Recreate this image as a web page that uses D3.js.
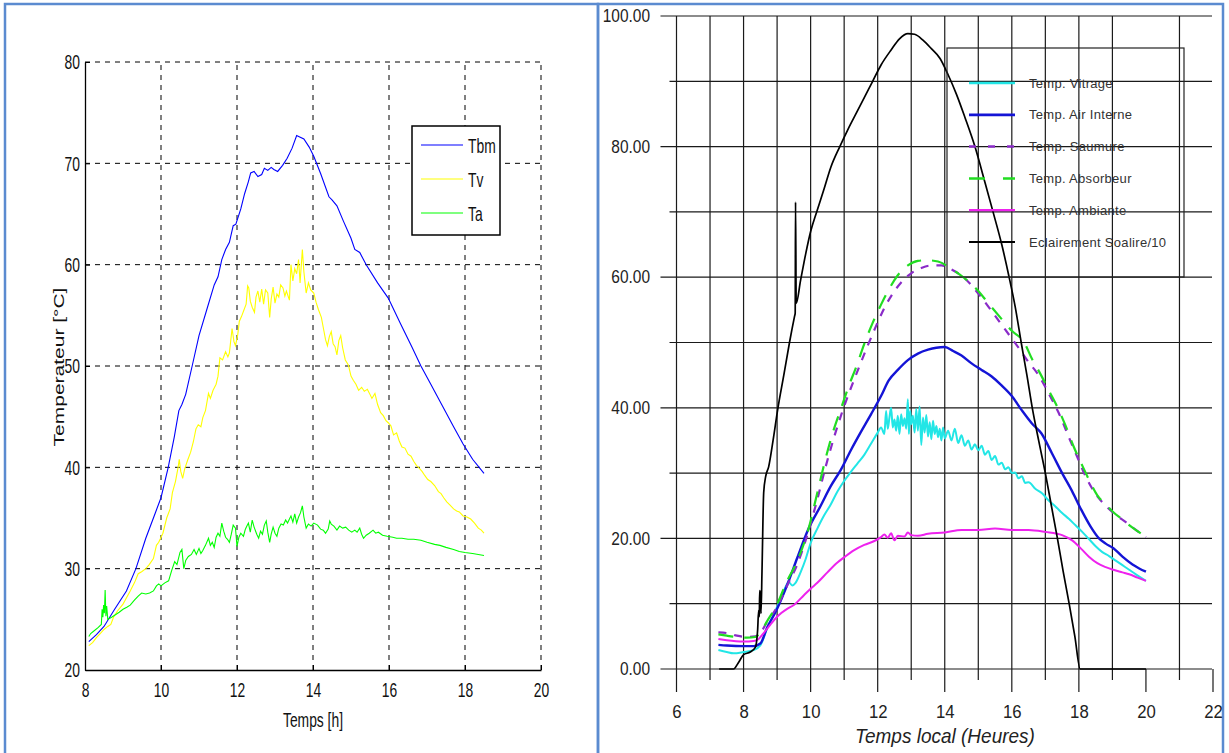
<!DOCTYPE html>
<html>
<head>
<meta charset="utf-8">
<script src="https://cdn.jsdelivr.net/npm/d3@7"></script>
<style>
  body { margin: 0; background: #fff; }
  svg { display: block; }
  text { font-family: "Liberation Sans", Arial, sans-serif; }
</style>
</head>
<body>
<svg width="1229" height="753"></svg>
<script>
// ---- left chart data (Temps [h], temperature in °C)
let tbm = [[8.1,22.8],[8.3,23.5],[8.5,24.3],[8.78,26],[9.09,27.8],[9.34,30],[9.6,33],[9.85,35.5],[10.0,37],[10.19,40],[10.35,43],[10.47,45.6],[10.55,46.2],[10.65,47.2],[10.82,50],[11.0,53],[11.2,55.5],[11.4,58],[11.5,58.8],[11.6,60.5],[11.7,61.5],[11.8,62.2],[11.9,63.85],[11.97,64],[12.1,65.5],[12.2,67],[12.3,68.2],[12.36,69.05],[12.45,69.2],[12.55,68.7],[12.65,68.9],[12.72,69.5],[12.81,69.3],[12.9,69.6],[12.97,69.4],[13.07,69.2],[13.2,69.8],[13.32,70.5],[13.45,71.5],[13.57,72.75],[13.65,72.6],[13.76,72.4],[13.9,71.6],[14.02,70.7],[14.2,69],[14.42,66.7],[14.5,66.4],[14.63,65.8],[14.8,64.3],[15.0,62.6],[15.1,61.5],[15.23,61.2],[15.4,60],[15.7,58.2],[15.98,56.7],[16.3,54.2],[16.6,51.9],[16.84,50],[17.1,48.2],[17.4,46.1],[17.7,44.0],[17.95,42.3],[18.2,40.8],[18.5,39.4]];

let tv = [[8.1,22.4],[8.2,22.7],[8.3,23.2],[8.4,23.6],[8.5,24],[8.6,24.3],[8.68,24.5],[8.75,25.2],[8.85,25.8],[9.0,26.5],[9.19,27.8],[9.3,28.6],[9.4,29.5],[9.49,29.7],[9.6,30],[9.69,30.4],[9.8,31],[9.88,32.3],[9.94,32.6],[10.05,33.5],[10.15,35],[10.24,35.9],[10.3,37.5],[10.38,38.6],[10.45,40],[10.48,40.8],[10.52,39.6],[10.57,38.9],[10.62,39.8],[10.7,40.7],[10.78,41.5],[10.85,42.5],[10.92,43.8],[10.98,44.2],[11.05,44],[11.1,44.9],[11.17,45.6],[11.25,47.3],[11.3,46.8],[11.37,47.6],[11.45,48.2],[11.5,49],[11.55,50.8],[11.62,50.6],[11.7,51.4],[11.76,50.9],[11.8,51.3],[11.87,53.7],[11.92,52.4],[11.96,52],[12.02,53.1],[12.06,54.4],[12.12,54.9],[12.18,55.5],[12.24,56.1],[12.28,57.9],[12.31,57.7],[12.35,56.4],[12.4,55.8],[12.46,55.3],[12.5,56.8],[12.55,57.4],[12.6,56.3],[12.65,57.6],[12.7,56.1],[12.75,57.5],[12.81,57.2],[12.86,54.8],[12.9,56.6],[12.95,57.8],[13.0,56.2],[13.05,57.1],[13.1,56.8],[13.15,58],[13.21,57.7],[13.26,56.9],[13.3,57.4],[13.38,56.5],[13.42,60.0],[13.47,58.4],[13.52,59.6],[13.57,59.1],[13.62,60.5],[13.66,58.2],[13.72,61.5],[13.76,59.3],[13.82,57.2],[13.88,58.2],[13.94,57.5],[14.02,57.2],[14.08,56.3],[14.14,55.6],[14.22,54.8],[14.28,53.6],[14.33,52.6],[14.38,52.0],[14.43,52.9],[14.48,53.4],[14.53,52.2],[14.58,51.9],[14.63,51.1],[14.68,52.5],[14.73,53],[14.78,51.8],[14.85,50.6],[14.93,50.1],[15.0,49],[15.06,48.6],[15.13,48.2],[15.2,47.6],[15.28,47.9],[15.35,47.5],[15.43,47.7],[15.5,47.2],[15.55,46.8],[15.63,47.3],[15.7,46.2],[15.78,45.4],[15.85,45.1],[15.92,44.6],[15.98,44.4],[16.05,44.1],[16.12,43.2],[16.2,43.4],[16.27,42.6],[16.34,42.0],[16.42,41.9],[16.5,41.3],[16.58,41.1],[16.65,40.6],[16.72,40.2],[16.8,39.9],[16.87,39.6],[16.94,39.2],[17.02,38.8],[17.1,38.6],[17.2,38.2],[17.3,37.6],[17.37,37.4],[17.44,37.0],[17.52,36.6],[17.6,36.3],[17.7,35.9],[17.78,35.7],[17.85,35.6],[17.95,35.2],[18.05,35.1],[18.15,34.9],[18.25,34.5],[18.35,34.0],[18.43,33.8],[18.5,33.5]];

let ta = [[8.1,23.3],[8.15,23.6],[8.25,23.9],[8.35,24.2],[8.43,24.5],[8.45,26],[8.47,25.2],[8.49,26.4],[8.51,25.6],[8.53,27.9],[8.55,25.3],[8.57,26.3],[8.6,25],[8.7,25.2],[8.78,25.4],[8.9,25.7],[9.0,26],[9.1,26.2],[9.19,26.4],[9.3,26.9],[9.4,27.3],[9.49,27.6],[9.6,27.5],[9.7,27.6],[9.8,27.8],[9.88,28.3],[9.94,28.5],[10.0,28.3],[10.1,28.6],[10.2,28.8],[10.28,29.8],[10.36,30.7],[10.42,30.4],[10.5,31.6],[10.55,31.9],[10.6,30],[10.65,30.8],[10.72,31.2],[10.8,31.4],[10.87,31.9],[10.93,31.4],[11.0,32],[11.05,31.5],[11.1,31.8],[11.17,32.3],[11.25,33],[11.3,32.3],[11.35,32.6],[11.4,32.1],[11.45,33.1],[11.5,33.5],[11.55,33.2],[11.6,34.5],[11.65,33.7],[11.7,33.1],[11.75,32.9],[11.8,32.6],[11.85,33.4],[11.9,34.3],[11.96,34],[12.0,32.2],[12.05,33.1],[12.1,33.5],[12.17,33.2],[12.22,33.9],[12.26,34.2],[12.3,34.5],[12.35,33.6],[12.4,34.8],[12.45,34.1],[12.52,33.4],[12.57,33],[12.62,33.7],[12.67,33.4],[12.72,34.3],[12.77,34.7],[12.81,33.6],[12.86,32.6],[12.9,33.4],[12.95,34.1],[13.0,33.5],[13.05,33.2],[13.1,34],[13.16,34.4],[13.22,34.3],[13.28,34.8],[13.33,34.5],[13.38,34.9],[13.42,35.2],[13.47,34.6],[13.52,35.4],[13.57,34.5],[13.62,35.1],[13.67,35.5],[13.72,36.2],[13.76,35.1],[13.82,34],[13.88,34.4],[13.95,34.2],[14.02,34.5],[14.12,34.3],[14.2,33.9],[14.27,33.8],[14.33,33.5],[14.4,33.9],[14.44,34.7],[14.48,34.4],[14.55,34.2],[14.63,33.8],[14.7,34.2],[14.78,34],[14.86,34.1],[14.94,33.8],[15.02,33.6],[15.1,33.8],[15.16,33.6],[15.23,34.0],[15.28,33.4],[15.33,33.0],[15.4,33.3],[15.48,33.5],[15.58,33.8],[15.65,33.5],[15.72,33.6],[15.83,33.3],[15.95,33.2],[16.1,33.1],[16.2,33.0],[16.34,33.0],[16.5,32.9],[16.65,32.9],[16.84,32.8],[17.0,32.6],[17.2,32.4],[17.34,32.3],[17.5,32.1],[17.7,31.9],[17.85,31.7],[18.0,31.6],[18.2,31.5],[18.35,31.4],[18.5,31.3]];

let leftXTicks = [8, 10, 12, 14, 16, 18, 20];
let leftYTicks = [20, 30, 40, 50, 60, 70, 80];

// ---- right chart data (Temps local (Heures))
let vitrage = [[7.25,2.9],[7.5,2.6],[7.7,2.4],[8.0,2.6],[8.3,2.9],[8.5,3.6],[8.7,6.2],[9.0,9.5],[9.2,12],[9.35,13.3],[9.45,12.8],[9.55,13.2],[9.7,14.8],[9.85,16.8],[10.0,19.3],[10.2,21.5],[10.4,23.5],[10.6,25.2],[10.8,27.2],[11.0,28.8],[11.2,30.2],[11.4,31.5],[11.6,32.8],[11.8,34.5],[12.0,36.2],[12.1,37],[12.2,36],[12.25,39.5],[12.3,36.8],[12.35,38.5],[12.4,40],[12.45,37],[12.5,38.2],[12.55,36.5],[12.6,38.8],[12.65,36],[12.7,39],[12.75,37.2],[12.8,38.4],[12.85,36.8],[12.9,41.3],[12.93,36],[12.97,39.5],[13.0,37.5],[13.05,38.8],[13.1,36.2],[13.15,39.8],[13.2,36.5],[13.25,40.2],[13.3,34.3],[13.35,38.5],[13.4,36.2],[13.45,38.9],[13.5,35.6],[13.55,37.8],[13.6,35.2],[13.65,38],[13.7,36],[13.75,37.2],[13.8,35.5],[13.85,36.8],[13.9,35],[13.95,37],[14.0,35.3],[14.1,36.5],[14.2,35],[14.3,36.8],[14.4,34.6],[14.5,35.8],[14.6,34.2],[14.7,35],[14.8,33.6],[14.9,34.4],[15.0,33.5],[15.1,34.2],[15.2,32.8],[15.3,33.4],[15.4,32],[15.5,32.6],[15.6,31.3],[15.7,31.6],[15.8,30.6],[15.9,30.9],[16.0,30],[16.1,30.1],[16.2,29.2],[16.3,29.5],[16.4,28.5],[16.5,28.6],[16.7,27.6],[16.9,26.9],[17.1,25.8],[17.3,24.9],[17.5,23.9],[17.7,23],[17.9,22],[18.1,21],[18.3,19.9],[18.5,18.8],[18.7,17.9],[18.9,17.3],[19.1,16.6],[19.3,15.9],[19.5,15.2],[19.7,14.5],[20,13.5]];

let airInterne = [[7.25,3.7],[7.5,3.6],[8.0,3.5],[8.3,3.5],[8.5,3.9],[8.7,6.3],[8.98,9.0],[9.34,13.4],[9.6,17],[9.94,21.5],[10.3,25],[10.6,28],[10.9,30.5],[11.2,33.5],[11.5,36.3],[11.8,39],[12.1,41.8],[12.33,44.2],[12.6,45.8],[12.9,47.3],[13.2,48.3],[13.5,48.9],[13.75,49.2],[14.0,49.3],[14.25,48.7],[14.5,48],[14.8,46.8],[15.1,45.8],[15.4,44.8],[15.68,43.5],[16.0,41.8],[16.3,39.6],[16.6,37.6],[16.88,36.1],[17.2,33],[17.5,30],[17.8,27.2],[18.07,24.4],[18.35,21.8],[18.6,20],[18.8,19.2],[19.03,18.5],[19.3,17.2],[19.6,16],[19.8,15.4],[20,14.9]];

let saumure = [[7.25,5.6],[7.5,5.5],[7.8,5.1],[8.1,4.9],[8.35,5.0],[8.5,5.5],[8.7,7.2],[9.0,9.5],[9.3,12.8],[9.6,16],[9.9,20.5],[10.2,26],[10.45,31],[10.7,35.5],[10.95,39.5],[11.2,43],[11.45,46.3],[11.7,49.5],[11.95,52.5],[12.2,55.3],[12.45,57.5],[12.7,59.2],[13.0,60.6],[13.3,61.4],[13.6,61.8],[13.9,61.8],[14.2,61.2],[14.6,59.8],[15.0,57.5],[15.4,54.8],[15.8,52],[16.2,49.2],[16.5,47],[16.8,45],[17.1,42.2],[17.4,39.2],[17.7,35.5],[17.95,32.5],[18.2,29.5],[18.5,26.8],[18.8,25],[19.1,23.6],[19.4,22.5],[19.7,21.3],[20,20.2]];

let absorbeur = [[7.25,5.3],[7.5,5.1],[7.8,4.9],[8.1,4.8],[8.35,4.9],[8.5,5.6],[8.7,7.3],[8.98,9.7],[9.3,13.5],[9.58,16.3],[9.94,21.5],[10.2,27],[10.42,31.7],[10.65,36],[10.9,39.8],[11.15,43.5],[11.37,46.4],[11.6,49.8],[11.85,53],[12.1,55.8],[12.33,58.1],[12.6,60.3],[12.9,61.8],[13.2,62.5],[13.47,62.6],[13.8,62.4],[14.25,61.1],[14.6,59.8],[14.96,58.1],[15.3,56],[15.68,53.7],[16.0,51.8],[16.37,50],[16.6,47.5],[16.82,45.5],[17.12,42.5],[17.37,40],[17.6,37.3],[17.85,34],[18.07,31.5],[18.3,29],[18.55,26.6],[18.8,25.2],[19.03,24.0],[19.27,23],[19.51,22],[19.75,21.1],[20,20.2]];

let ambiante = [[7.25,4.6],[7.5,4.4],[8.0,4.2],[8.3,4.3],[8.45,4.6],[8.6,5.5],[8.8,6.8],[9.0,8.0],[9.3,9.2],[9.5,9.8],[9.8,11.3],[10.0,12.3],[10.2,13.2],[10.5,14.8],[10.8,16.3],[11.0,17.1],[11.3,18.2],[11.6,19],[11.9,19.6],[12.1,20.2],[12.2,20.6],[12.3,20.1],[12.4,20.8],[12.5,19.7],[12.6,20.4],[12.8,20.3],[12.9,20.9],[13.0,20.5],[13.2,20.4],[13.5,20.7],[14.0,20.9],[14.5,21.3],[15.0,21.3],[15.5,21.5],[16.0,21.3],[16.5,21.3],[17.0,21.0],[17.5,20.5],[17.8,19.7],[18.07,18.4],[18.3,17.2],[18.55,16.2],[18.8,15.6],[19.03,15.2],[19.3,14.8],[19.5,14.5],[19.75,14],[20,13.5]];

let eclairement = [[7.27,0],[7.7,0],[7.85,1],[8.0,2.2],[8.2,2.6],[8.35,3.3],[8.42,6],[8.45,9],[8.47,8],[8.48,12],[8.5,11.5],[8.52,8.5],[8.55,15],[8.6,27],[8.66,29.5],[8.75,31],[8.88,35],[9.02,39.8],[9.2,45],[9.37,50],[9.52,54],[9.54,54.5],[9.55,71.5],[9.57,56],[9.7,59.5],[9.85,63.5],[10.0,67],[10.18,70],[10.4,73.5],[10.6,76.8],[10.87,80],[11.1,82.5],[11.4,85.5],[11.6,87.5],[11.85,90],[12.1,92.5],[12.4,94.8],[12.65,96.5],[12.9,97.3],[13.1,97.2],[13.35,96.3],[13.6,95],[13.86,93.5],[14.1,91],[14.35,88],[14.6,84.5],[14.9,80],[15.2,74.5],[15.44,70],[15.7,65],[15.92,60],[16.1,55.5],[16.28,50],[16.45,45],[16.61,40],[16.8,35],[17.0,30],[17.18,25],[17.36,20],[17.53,15],[17.71,10],[17.88,5],[18.04,0],[20,0]];

let rightXTicks = d3.range(6, 23, 2);
let rightYTicks = d3.range(0, 101, 20);
let rightGridX = [6, 7, 8, 9, 10, 11, 12, 13, 14, 15, 16, 17, 18, 19, 21];
let rightGridY = d3.range(0, 101, 10);

let svg = d3.select("svg");

// panel frames
svg.append("rect").attr("x", 5).attr("y", 4).attr("width", 593).attr("height", 770)
  .attr("fill", "none").attr("stroke", "#5b8bd0").attr("stroke-width", 2.5);
svg.append("rect").attr("x", 598).attr("y", 4).attr("width", 625).attr("height", 770)
  .attr("fill", "none").attr("stroke", "#5b8bd0").attr("stroke-width", 2.5);

// squeeze text horizontally (the screenshots were stretched)
function squeeze(sel, k) {
  sel.each(function() {
    let t = d3.select(this);
    let x = +t.attr("x") || 0;
    t.attr("x", x / k).attr("transform", "scale(" + k + ",1)");
  });
}

// ================= LEFT CHART =================
let kL = 0.66;
var xL = d3.scaleLinear().domain([8, 20]).range([85, 541]);
var yL = d3.scaleLinear().domain([20, 80]).range([670, 62]);

let left = svg.append("g");

// dashed grid
left.append("g").selectAll("line").data(leftXTicks.slice(1)).enter().append("line")
  .attr("x1", d => xL(d)).attr("x2", d => xL(d)).attr("y1", yL(20)).attr("y2", yL(80))
  .attr("stroke", "#000").attr("stroke-dasharray", "5,5");
left.append("g").selectAll("line").data(leftYTicks.slice(1)).enter().append("line")
  .attr("x1", xL(8)).attr("x2", xL(20)).attr("y1", d => yL(d)).attr("y2", d => yL(d))
  .attr("stroke", "#000").attr("stroke-dasharray", "5,5");

let axL = left.append("g").attr("transform", "translate(" + xL(8) + ",0)")
  .call(d3.axisLeft(yL).tickValues(leftYTicks).tickSizeInner(-5).tickSizeOuter(0).tickPadding(5));
let axB = left.append("g").attr("transform", "translate(0," + yL(20) + ")")
  .call(d3.axisBottom(xL).tickValues(leftXTicks).tickSizeInner(-5).tickSizeOuter(0).tickPadding(12));
[axL, axB].forEach(a => {
  a.select(".domain").attr("stroke", "#000").attr("stroke-width", 1.3);
  a.selectAll("text").attr("font-size", 21).attr("fill", "#111");
  a.attr("font-family", null);
});
squeeze(axL.selectAll("text"), kL);
squeeze(axB.selectAll("text"), kL);

left.append("text").attr("font-size", 21).attr("text-anchor", "middle").attr("fill", "#111")
  .attr("transform", "translate(313,727) scale(" + kL + ",1)").text("Temps [h]");
left.append("text").attr("font-size", 21).attr("text-anchor", "middle").attr("fill", "#111")
  .attr("transform", "translate(64,367) scale(" + kL + ",1) rotate(-90)").text("Temperateur [°C]");

var lineL = d3.line().x(d => xL(d[0])).y(d => yL(d[1]));
let leftSeries = [
  { name: "Tbm", data: tbm, color: "#0000ff" },
  { name: "Tv", data: tv, color: "#ffff00" },
  { name: "Ta", data: ta, color: "#00ff00" }
];
left.selectAll(".ln").data(leftSeries).enter().append("path")
  .attr("d", d => lineL(d.data)).attr("fill", "none")
  .attr("stroke", d => d.color).attr("stroke-width", 1.1);

// legend
let legL = left.append("g");
legL.append("rect").attr("x", 412).attr("y", 126).attr("width", 88).attr("height", 109)
  .attr("fill", "#fff").attr("stroke", "#000").attr("stroke-width", 1.5);
leftSeries.forEach((s, i) => {
  let y = 145 + i * 34;
  legL.append("line").attr("x1", 421).attr("x2", 463).attr("y1", y).attr("y2", y)
    .attr("stroke", s.color).attr("stroke-width", 1.1);
  legL.append("text").attr("font-size", 21).attr("fill", "#111")
    .attr("transform", "translate(468," + (y + 7.5) + ") scale(" + kL + ",1)").text(s.name);
});

// ================= RIGHT CHART =================
var xR = d3.scaleLinear().domain([6, 22]).range([676.5, 1213]);
var yR = d3.scaleLinear().domain([0, 100]).range([669, 16]);

let right = svg.append("g");
let gridColor = "#1a1a1a";

right.append("g").selectAll("line").data(rightGridY).enter().append("line")
  .attr("x1", d => (d % 20 === 0 ? xR(6) - 16 : xR(6) - 7)).attr("x2", xR(22) - 1)
  .attr("y1", d => yR(d)).attr("y2", d => yR(d))
  .attr("stroke", gridColor).attr("stroke-width", 1.2);
right.append("g").selectAll("line").data(rightGridX).enter().append("line")
  .attr("x1", d => xR(d)).attr("x2", d => xR(d)).attr("y1", yR(100)).attr("y2", yR(0))
  .attr("stroke", gridColor).attr("stroke-width", 1.2);
right.append("g").selectAll("line").data(d3.range(6, 23)).enter().append("line")
  .attr("x1", d => xR(d)).attr("x2", d => xR(d)).attr("y1", yR(0))
  .attr("y2", d => (d % 2 === 0 ? yR(0) + 23 : yR(0) + 11))
  .attr("stroke", gridColor).attr("stroke-width", 1.2);

let axRL = right.append("g").attr("transform", "translate(660,0)")
  .call(d3.axisLeft(yR).tickValues(rightYTicks).tickSize(0).tickPadding(10).tickFormat(d3.format(".2f")));
let axRB = right.append("g").attr("transform", "translate(0," + yR(0) + ")")
  .call(d3.axisBottom(xR).tickValues(rightXTicks).tickSize(0).tickPadding(49));
[axRL, axRB].forEach(a => {
  a.select(".domain").remove();
  a.attr("font-family", null);
  a.selectAll("text").attr("fill", "#222");
});
axRL.selectAll("text").attr("font-size", 18);
axRB.selectAll("text").attr("font-size", 19).attr("dy", null);
squeeze(axRL.selectAll("text"), 0.86);
squeeze(axRB.selectAll("text"), 0.88);

right.append("text").attr("font-size", 20).attr("font-style", "italic").attr("text-anchor", "middle")
  .attr("fill", "#222").attr("transform", "translate(945,743) scale(0.95,1)").text("Temps local (Heures)");

var lineR = d3.line().curve(d3.curveMonotoneX).x(d => xR(d[0])).y(d => yR(d[1]));
let rightSeries = [
  { name: "Temp. Vitrage", data: vitrage, color: "#22e6e6", width: 2, dash: null },
  { name: "Temp. Air Interne", data: airInterne, color: "#1414d6", width: 2.4, dash: null },
  { name: "Temp. Saumure", data: saumure, color: "#8a2bc8", width: 2.2, dash: "8,8" },
  { name: "Temp. Absorbeur", data: absorbeur, color: "#22dd22", width: 2.2, dash: "15,11" },
  { name: "Temp. Ambiante", data: ambiante, color: "#ee22ee", width: 2, dash: null },
  { name: "Eclairement Soalire/10", data: eclairement, color: "#000", width: 1.7, dash: null }
];
right.selectAll(".lr").data(rightSeries).enter().append("path")
  .attr("d", d => lineR(d.data)).attr("fill", "none")
  .attr("stroke", d => d.color).attr("stroke-width", d => d.width)
  .attr("stroke-dasharray", d => d.dash);

// legend (transparent box, grid shows through)
let legR = right.append("g");
legR.append("rect").attr("x", 947).attr("y", 48).attr("width", 237).attr("height", 229)
  .attr("fill", "none").attr("stroke", "#222").attr("stroke-width", 1.2);
let legendDash = ["", "", "7,12", "16,18", "", ""];
rightSeries.forEach((s, i) => {
  let y = 83 + i * 31.8;
  legR.append("line").attr("x1", 969).attr("x2", 1015).attr("y1", y).attr("y2", y)
    .attr("stroke", s.color).attr("stroke-width", s.width + 0.3)
    .attr("stroke-dasharray", legendDash[i] || null);
  legR.append("text").attr("x", 1029).attr("y", y + 4.5).attr("font-size", 13)
    .attr("letter-spacing", 0.3).attr("fill", "#333").text(s.name);
});
</script>
</body>
</html>
